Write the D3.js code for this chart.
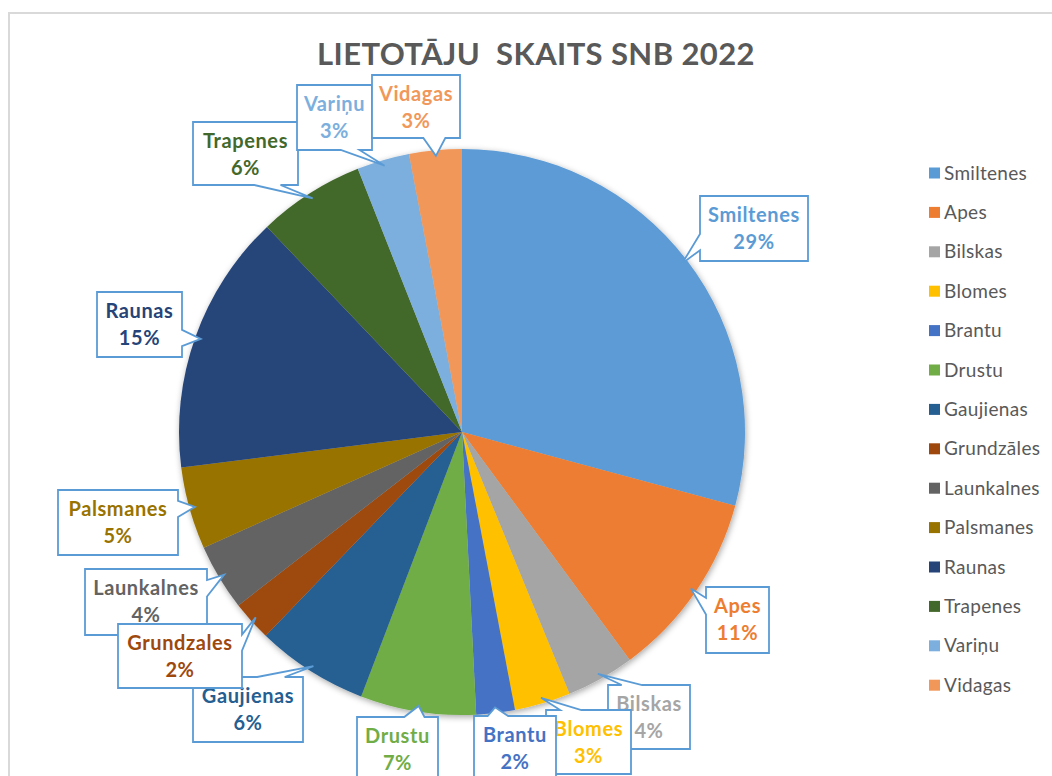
<!DOCTYPE html>
<html>
<head>
<meta charset="utf-8">
<script src="https://cdn.jsdelivr.net/npm/d3@7"></script>
<style>
  body { margin: 0; background: #fff; }
  text { font-family: Lato, "Open Sans", sans-serif; }
</style>
</head>
<body>
<svg id="chart" width="1052" height="776"></svg>
<script>
// data (share of users, %)
var categories = ["Smiltenes", "Apes", "Bilskas", "Blomes", "Brantu", "Drustu", "Gaujienas",
                  "Grundzāles", "Launkalnes", "Palsmanes", "Raunas", "Trapenes", "Variņu", "Vidagas"];
var calloutNames = ["Smiltenes", "Apes", "Bilskas", "Blomes", "Brantu", "Drustu", "Gaujienas",
                    "Grundzales", "Launkalnes", "Palsmanes", "Raunas", "Trapenes", "Variņu", "Vidagas"];
var values = [29.2, 10.7, 3.9, 3.2, 2.2, 6.6, 6.4, 2.3, 3.8, 4.7, 14.9, 6.1, 3.0, 3.0];
var colors = ["#5B9BD5", "#ED7D31", "#A5A5A5", "#FFC000", "#4472C4", "#70AD47", "#255E91",
              "#9E480E", "#636363", "#997300", "#264478", "#43682B", "#7CAFDD", "#F1975A"];

// callout boxes [x, y, w, h] - layout only
var boxes = [
  [700, 196, 108, 65], [706, 587, 63, 66], [608, 685, 82, 64], [546, 710, 85, 64],
  [474, 716, 82, 64], [357, 717, 81, 64], [193, 677, 110, 65], [118, 624, 124, 64],
  [85, 569, 122, 66], [58, 490, 120, 65], [97, 292, 85, 65], [193, 122, 105, 63],
  [297, 85, 75, 65], [372, 75, 88, 63]
];

var svg = d3.select("#chart");
var cx = 462, cy = 432, radius = 283;
var total = d3.sum(values);
var pct = d3.format(".0%");

// chart frame
svg.append("rect")
  .attr("x", 9).attr("y", 13)
  .attr("width", 1100).attr("height", 800)
  .attr("fill", "#fff")
  .attr("stroke", "#d9d9d9").attr("stroke-width", 2);

var defs = svg.append("defs");
defs.append("filter").attr("id", "shadow")
  .attr("x", "-10%").attr("y", "-10%").attr("width", "120%").attr("height", "120%")
  .append("feDropShadow")
  .attr("dx", 1).attr("dy", 2).attr("stdDeviation", 3)
  .attr("flood-color", "#000").attr("flood-opacity", 0.35);

svg.append("text")
  .attr("x", 536).attr("y", 65)
  .attr("text-anchor", "middle")
  .style("white-space", "pre")
  .attr("font-size", 31).attr("font-weight", "bold")
  .attr("letter-spacing", 0.4)
  .attr("fill", "#595959")
  .text("LIETOTĀJU  SKAITS SNB 2022");

var pie = d3.pie().sort(null).value(function(d) { return d; });
var arcs = pie(values);
var arc = d3.arc().innerRadius(0).outerRadius(radius);
var tipArc = d3.arc().innerRadius(radius * 0.98).outerRadius(radius * 0.98);

var g = svg.append("g").attr("transform", "translate(" + cx + "," + cy + ")");
g.append("g").attr("filter", "url(#shadow)")
  .selectAll("path")
  .data(arcs)
  .enter().append("path")
  .attr("d", arc)
  .attr("fill", function(d, i) { return colors[i]; });

// Excel style wedge rect callout
function calloutPath(x, y, w, h, tx, ty) {
  var dxPos = tx - (x + w / 2), dyPos = ty - (y + h / 2);
  var dx = dxPos * h, dy = dyPos * w;
  var p;
  if (Math.abs(dx) > Math.abs(dy)) {
    var y1 = y + h * (dy > 0 ? 7 : 2) / 12, y2 = y + h * (dy > 0 ? 10 : 5) / 12;
    if (dx < 0) p = [[x, y], [x + w, y], [x + w, y + h], [x, y + h], [x, y2], [tx, ty], [x, y1]];
    else p = [[x, y], [x + w, y], [x + w, y1], [tx, ty], [x + w, y2], [x + w, y + h], [x, y + h]];
  } else {
    var x1 = x + w * (dx > 0 ? 7 : 2) / 12, x2 = x + w * (dx > 0 ? 10 : 5) / 12;
    if (dy < 0) p = [[x, y], [x1, y], [tx, ty], [x2, y], [x + w, y], [x + w, y + h], [x, y + h]];
    else p = [[x, y], [x + w, y], [x + w, y + h], [x2, y + h], [tx, ty], [x1, y + h], [x, y + h]];
  }
  return "M" + p.join("L") + "Z";
}

var labels = svg.append("g").selectAll("g.callout")
  .data(arcs)
  .enter().append("g").attr("class", "callout");

labels.append("path")
  .attr("d", function(d, i) {
    var b = boxes[i];
    var t = tipArc.centroid(d);
    return calloutPath(b[0], b[1], b[2], b[3], t[0] + cx, t[1] + cy);
  })
  .attr("fill", "#fff")
  .attr("stroke", "#5B9BD5")
  .attr("stroke-width", 1.8);

labels.append("text")
  .attr("text-anchor", "middle")
  .attr("font-size", 20).attr("font-weight", "bold")
  .attr("letter-spacing", 0.6)
  .attr("fill", function(d, i) { return colors[i]; })
  .each(function(d, i) {
    var b = boxes[i];
    var t = d3.select(this);
    t.append("tspan").attr("x", b[0] + b[2] / 2).attr("y", b[1] + 26).text(calloutNames[i]);
    t.append("tspan").attr("x", b[0] + b[2] / 2).attr("y", b[1] + 53).text(pct(d.value / total));
  });

// Grundzales box sits above its neighbours
labels.filter(function(d, i) { return i === 7; }).raise();

// legend
var legend = svg.append("g").selectAll("g")
  .data(categories)
  .enter().append("g")
  .attr("transform", function(d, i) { return "translate(929," + (173.5 + i * 39.4) + ")"; });

legend.append("rect")
  .attr("x", 0).attr("y", -6)
  .attr("width", 11).attr("height", 11)
  .attr("fill", function(d, i) { return colors[i]; });

legend.append("text")
  .attr("x", 15).attr("y", 6)
  .attr("font-size", 19)
  .attr("letter-spacing", 0.3)
  .attr("fill", "#595959")
  .text(function(d) { return d; });
</script>
</body>
</html>
